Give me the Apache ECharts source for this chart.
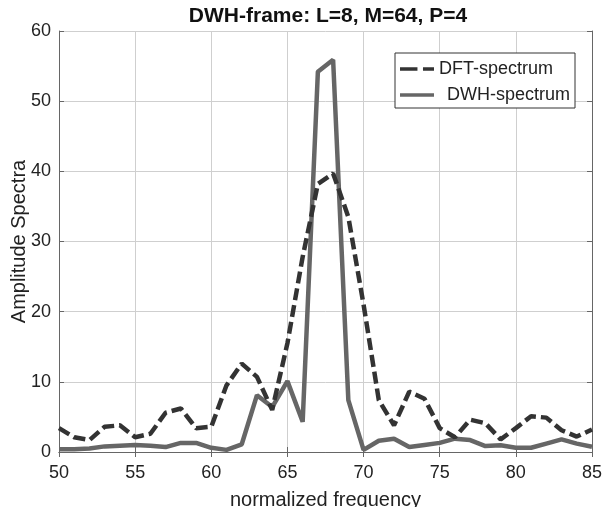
<!DOCTYPE html>
<html>
<head>
<meta charset="utf-8">
<script src="https://cdn.jsdelivr.net/npm/echarts@6/dist/echarts.min.js"></script>
<style>
  html, body { margin: 0; padding: 0; background: #fff; }
  #chart { width: 602px; height: 507px; }
</style>
</head>
<body>
<div id="chart"></div>
<script>
const freq = [50, 51, 52, 53, 54, 55, 56, 57, 58, 59, 60, 61, 62, 63, 64, 65, 66, 67,
  68, 69, 70, 71, 72, 73, 74, 75, 76, 77, 78, 79, 80, 81, 82, 83, 84, 85]
const dftSpectrum = [3.4, 2.1, 1.7, 3.6, 3.8, 2.1, 2.6, 5.6, 6.2, 3.4, 3.6, 9.5, 12.6, 10.7, 6.0, 15.5, 27.8, 38.2,
  39.7, 33.5, 21.0, 7.4, 3.8, 8.6, 7.6, 3.4, 2.1, 4.6, 4.1, 1.8, 3.4, 5.1, 4.9, 3.1, 2.2, 3.2]
const dwhSpectrum = [0.4, 0.4, 0.5, 0.8, 0.9, 1.0, 0.9, 0.7, 1.3, 1.3, 0.6, 0.3, 1.1, 8.1, 6.4, 10.1, 4.3, 54.2,
  55.9, 7.4, 0.3, 1.6, 1.9, 0.7, 1.0, 1.3, 1.9, 1.7, 0.85, 0.95, 0.6, 0.6, 1.2, 1.8, 1.2, 0.75]
const xTicks = [50, 55, 60, 65, 70, 75, 80, 85]
const yTicks = [0, 10, 20, 30, 40, 50, 60]

const textColor = '#222'
const frameColor = '#666'
const gridColor = '#cfcfcf'

const chart = echarts.init(document.getElementById('chart'))

const pairs = (ys) => freq.map((x, i) => [x, ys[i]])

// frame axes on top / right, no labels
const frameAxis = (extra) => Object.assign({
  type: 'value',
  axisLine: { show: true, lineStyle: { color: frameColor } },
  axisTick: { show: true, inside: true, length: 5, lineStyle: { color: frameColor } },
  axisLabel: { show: false },
  splitLine: { show: false },
}, extra)

const option = {
  animation: false,
  textStyle: { fontFamily: 'Liberation Sans, Arial, sans-serif' },
  title: {
    text: 'DWH-frame: L=8, M=64, P=4',
    left: 323,
    textAlign: 'center',
    top: 1,
    textStyle: { fontSize: 21, fontWeight: 'bold', color: '#111' },
  },
  grid: { left: 59, right: 10, top: 31, bottom: 55, outerBoundsMode: 'none', containLabel: false },
  xAxis: [
    {
      type: 'value',
      min: xTicks[0],
      max: xTicks[xTicks.length - 1],
      interval: 5,
      name: 'normalized frequency',
      nameLocation: 'middle',
      nameGap: 38,
      nameMoveOverlap: false,
      nameTextStyle: { fontSize: 20, color: textColor },
      axisLine: { show: true, lineStyle: { color: frameColor } },
      axisTick: { show: true, inside: true, length: 5, lineStyle: { color: frameColor } },
      axisLabel: { fontSize: 18, color: textColor, margin: 12 },
      splitLine: { show: true, lineStyle: { color: gridColor } },
    },
    frameAxis({ position: 'top', min: xTicks[0], max: xTicks[xTicks.length - 1], interval: 5 }),
  ],
  yAxis: [
    {
      type: 'value',
      min: yTicks[0],
      max: yTicks[yTicks.length - 1],
      interval: 10,
      name: 'Amplitude Spectra',
      nameLocation: 'middle',
      nameGap: 30,
      nameMoveOverlap: false,
      nameTextStyle: { fontSize: 20, color: textColor },
      axisLine: { show: true, lineStyle: { color: frameColor } },
      axisTick: { show: true, inside: true, length: 5, lineStyle: { color: frameColor } },
      axisLabel: { fontSize: 18, color: textColor, margin: 8 },
      splitLine: { show: true, lineStyle: { color: gridColor } },
    },
    frameAxis({ position: 'right', min: yTicks[0], max: yTicks[yTicks.length - 1], interval: 10 }),
  ],
  legend: {
    orient: 'vertical',
    left: 395,
    top: 53,
    padding: [7, 5, 4, 5],
    itemGap: 8,
    itemWidth: 34,
    itemHeight: 4,
    borderColor: '#333',
    borderWidth: 1,
    backgroundColor: '#fff',
    textStyle: {
      fontSize: 18,
      color: textColor,
      rich: { shift: { fontSize: 18, color: textColor, padding: [0, 0, 0, 8] } },
    },
    formatter: (name) => name === 'DWH-spectrum' ? '{shift|' + name + '}' : name,
    data: [
      { name: 'DFT-spectrum', icon: 'path://M0,0h19v4h-19z M25,0h12v4h-12z' },
      { name: 'DWH-spectrum', icon: 'path://M0,0h37v4h-37z' },
    ],
  },
  series: [
    {
      name: 'DFT-spectrum',
      type: 'line',
      data: pairs(dftSpectrum),
      symbol: 'none',
      lineStyle: { color: '#333', width: 4.5, type: [12, 5] },
      itemStyle: { color: '#333' },
      z: 3,
    },
    {
      name: 'DWH-spectrum',
      type: 'line',
      data: pairs(dwhSpectrum),
      symbol: 'none',
      lineStyle: { color: '#666', width: 4.5 },
      itemStyle: { color: '#666' },
      z: 2,
    },
  ],
}

chart.setOption(option)
</script>
</body>
</html>
